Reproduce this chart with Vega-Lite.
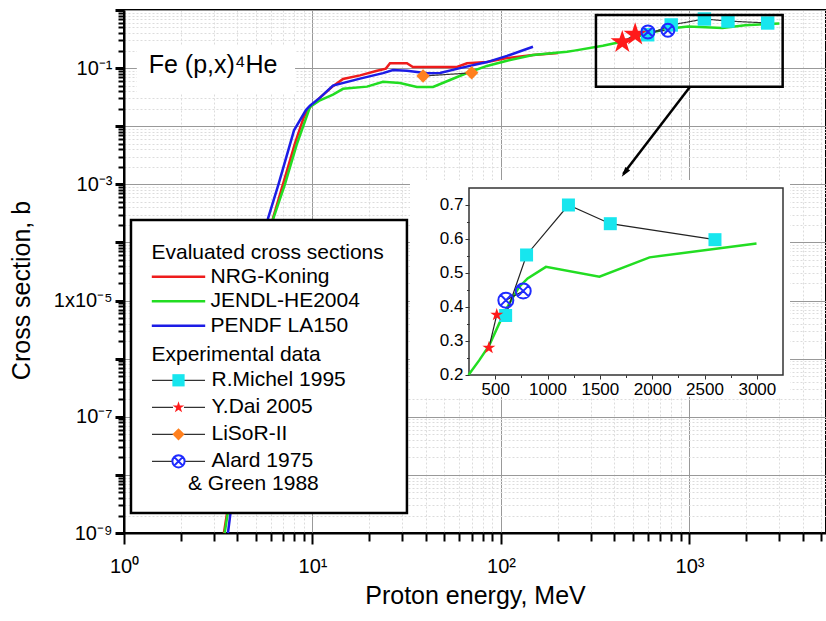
{
  "$schema": "https://vega.github.io/schema/vega-lite/v6.json",
  "width": 702,
  "height": 523,
  "autosize": {"type": "none"},
  "padding": {"left": 124, "top": 10, "right": 0, "bottom": 88},
  "background": "white",
  "config": {
    "view": {"stroke": "#000", "strokeWidth": 2},
    "font": "Liberation Sans, Arial, sans-serif",
    "text": {"font": "Liberation Sans, Arial, sans-serif", "color": "#000"},
    "axis": {"labelFont": "Liberation Sans, Arial, sans-serif", "titleFont": "Liberation Sans, Arial, sans-serif", "labelColor": "#000", "titleColor": "#000", "titleFontWeight": "normal"},
    "legend": {"labelFont": "Liberation Sans, Arial, sans-serif", "titleFont": "Liberation Sans, Arial, sans-serif", "labelColor": "#000", "titleColor": "#000", "titleFontWeight": "normal"}
  },
  "datasets": {
    "evaluated": [
      {"model": "NRG-Koning", "E": 3.39, "xs": 1e-9},
      {"model": "NRG-Koning", "E": 6.17, "xs": 0.00026},
      {"model": "NRG-Koning", "E": 6.97, "xs": 0.001},
      {"model": "NRG-Koning", "E": 8.08, "xs": 0.0051},
      {"model": "NRG-Koning", "E": 9.0, "xs": 0.0144},
      {"model": "NRG-Koning", "E": 9.7, "xs": 0.0214},
      {"model": "NRG-Koning", "E": 10.96, "xs": 0.031},
      {"model": "NRG-Koning", "E": 12.84, "xs": 0.049},
      {"model": "NRG-Koning", "E": 14.52, "xs": 0.065},
      {"model": "NRG-Koning", "E": 17.87, "xs": 0.075},
      {"model": "NRG-Koning", "E": 21.99, "xs": 0.09},
      {"model": "NRG-Koning", "E": 24.5, "xs": 0.098},
      {"model": "NRG-Koning", "E": 25.77, "xs": 0.121},
      {"model": "NRG-Koning", "E": 31.7, "xs": 0.121},
      {"model": "NRG-Koning", "E": 34.1, "xs": 0.1045},
      {"model": "NRG-Koning", "E": 58.4, "xs": 0.1045},
      {"model": "NRG-Koning", "E": 66.0, "xs": 0.121},
      {"model": "NRG-Koning", "E": 84.3, "xs": 0.127},
      {"model": "NRG-Koning", "E": 107.6, "xs": 0.149},
      {"model": "NRG-Koning", "E": 147.8, "xs": 0.168},
      {"model": "NRG-Koning", "E": 200.6, "xs": 0.182},
      {"model": "JENDL-HE2004", "E": 3.42, "xs": 1e-9},
      {"model": "JENDL-HE2004", "E": 6.2, "xs": 0.00026},
      {"model": "JENDL-HE2004", "E": 7.14, "xs": 0.001},
      {"model": "JENDL-HE2004", "E": 8.29, "xs": 0.0051},
      {"model": "JENDL-HE2004", "E": 9.7, "xs": 0.0214},
      {"model": "JENDL-HE2004", "E": 10.96, "xs": 0.028},
      {"model": "JENDL-HE2004", "E": 12.84, "xs": 0.035},
      {"model": "JENDL-HE2004", "E": 14.52, "xs": 0.044},
      {"model": "JENDL-HE2004", "E": 19.46, "xs": 0.048},
      {"model": "JENDL-HE2004", "E": 23.66, "xs": 0.0583},
      {"model": "JENDL-HE2004", "E": 29.12, "xs": 0.0554},
      {"model": "JENDL-HE2004", "E": 35.8, "xs": 0.0473},
      {"model": "JENDL-HE2004", "E": 43.6, "xs": 0.0473},
      {"model": "JENDL-HE2004", "E": 53.6, "xs": 0.0624},
      {"model": "JENDL-HE2004", "E": 66.0, "xs": 0.0824},
      {"model": "JENDL-HE2004", "E": 84.3, "xs": 0.109},
      {"model": "JENDL-HE2004", "E": 107.6, "xs": 0.134},
      {"model": "JENDL-HE2004", "E": 147.8, "xs": 0.168},
      {"model": "JENDL-HE2004", "E": 224, "xs": 0.191},
      {"model": "JENDL-HE2004", "E": 245, "xs": 0.2},
      {"model": "JENDL-HE2004", "E": 347, "xs": 0.243},
      {"model": "JENDL-HE2004", "E": 443, "xs": 0.287},
      {"model": "JENDL-HE2004", "E": 538, "xs": 0.351},
      {"model": "JENDL-HE2004", "E": 634, "xs": 0.41},
      {"model": "JENDL-HE2004", "E": 730, "xs": 0.459},
      {"model": "JENDL-HE2004", "E": 810, "xs": 0.484},
      {"model": "JENDL-HE2004", "E": 985, "xs": 0.518},
      {"model": "JENDL-HE2004", "E": 1496, "xs": 0.489},
      {"model": "JENDL-HE2004", "E": 1975, "xs": 0.546},
      {"model": "JENDL-HE2004", "E": 2997, "xs": 0.587},
      {"model": "PENDF LA150", "E": 3.56, "xs": 1e-9},
      {"model": "PENDF LA150", "E": 5.81, "xs": 0.00026},
      {"model": "PENDF LA150", "E": 6.6, "xs": 0.001},
      {"model": "PENDF LA150", "E": 7.98, "xs": 0.0085},
      {"model": "PENDF LA150", "E": 9.23, "xs": 0.019},
      {"model": "PENDF LA150", "E": 9.7, "xs": 0.0225},
      {"model": "PENDF LA150", "E": 10.96, "xs": 0.031},
      {"model": "PENDF LA150", "E": 12.84, "xs": 0.05},
      {"model": "PENDF LA150", "E": 17.87, "xs": 0.066},
      {"model": "PENDF LA150", "E": 23.66, "xs": 0.082},
      {"model": "PENDF LA150", "E": 26.74, "xs": 0.0927},
      {"model": "PENDF LA150", "E": 31.7, "xs": 0.0902},
      {"model": "PENDF LA150", "E": 40.5, "xs": 0.0814},
      {"model": "PENDF LA150", "E": 47.5, "xs": 0.0824},
      {"model": "PENDF LA150", "E": 60.6, "xs": 0.1},
      {"model": "PENDF LA150", "E": 84.3, "xs": 0.127},
      {"model": "PENDF LA150", "E": 107.6, "xs": 0.162},
      {"model": "PENDF LA150", "E": 147.8, "xs": 0.233}
    ],
    "experimental": [
      {"series": "R.Michel 1995", "E": 600, "xs": 0.375},
      {"series": "R.Michel 1995", "E": 800, "xs": 0.553},
      {"series": "R.Michel 1995", "E": 1200, "xs": 0.7},
      {"series": "R.Michel 1995", "E": 1600, "xs": 0.645},
      {"series": "R.Michel 1995", "E": 2600, "xs": 0.598},
      {"series": "Y.Dai 2005", "E": 440, "xs": 0.28},
      {"series": "Y.Dai 2005", "E": 515, "xs": 0.377},
      {"series": "LiSoR-II", "E": 38.6, "xs": 0.073},
      {"series": "LiSoR-II", "E": 69.9, "xs": 0.083},
      {"series": "Alard 1975", "E": 602, "xs": 0.42},
      {"series": "Alard 1975", "E": 768, "xs": 0.447}
    ]
  },
  "layer": [
    {
      "layer": [
        {
          "data": {"name": "evaluated"},
          "mark": {"type": "line", "strokeWidth": 2.5},
          "encoding": {
            "x": {
              "field": "E", "type": "quantitative",
              "scale": {"type": "log", "domain": [1, 5300], "nice": false},
              "axis": {
                "orient": "bottom",
                "values": [1,2,3,4,5,6,7,8,9,10,20,30,40,50,60,70,80,90,100,200,300,400,500,600,700,800,900,1000,2000,3000,4000,5000],
                "labelExpr": "datum.value == 1 ? '10⁰' : datum.value == 10 ? '10¹' : datum.value == 100 ? '10²' : datum.value == 1000 ? '10³' : ''",
                "labelOverlap": false, "labelFlush": false, "labelBound": false,
                "labelFontSize": 20, "labelPadding": 12,
                "title": "Proton energy, MeV", "titleFontSize": 25, "titleBaseline": "alphabetic", "titleY": 70,
                "domainColor": "#000", "domainWidth": 2,
                "tickColor": "#000", "tickWidth": 2,
                "tickSize": {"condition": {"test": "abs(log(datum.value)/LN10 - round(log(datum.value)/LN10)) < 0.0001", "value": 11}, "value": 8},
                "grid": true, "gridWidth": 1,
                "gridColor": {"condition": {"test": "abs(log(datum.value)/LN10 - round(log(datum.value)/LN10)) < 0.0001", "value": "#999999"}, "value": "#dcdcdc"},
                "gridDash": {"condition": {"test": "abs(log(datum.value)/LN10 - round(log(datum.value)/LN10)) < 0.0001", "value": []}, "value": [2, 2]}
              }
            },
            "y": {
              "field": "xs", "type": "quantitative",
              "scale": {"type": "log", "domain": [1e-9, 1], "nice": false},
              "axis": {
                "orient": "left",
                "values": [1e-9,2e-9,3e-9,4e-9,5e-9,6e-9,7e-9,8e-9,9e-9,1e-8,2e-8,3e-8,4e-8,5e-8,6e-8,7e-8,8e-8,9e-8,1e-7,2e-7,3e-7,4e-7,5e-7,6e-7,7e-7,8e-7,9e-7,1e-6,2e-6,3e-6,4e-6,5e-6,6e-6,7e-6,8e-6,9e-6,1e-5,2e-5,3e-5,4e-5,5e-5,6e-5,7e-5,8e-5,9e-5,0.0001,0.0002,0.0003,0.0004,0.0005,0.0006,0.0007,0.0008,0.0009,0.001,0.002,0.003,0.004,0.005,0.006,0.007,0.008,0.009,0.01,0.02,0.03,0.04,0.05,0.06,0.07,0.08,0.09,0.1,0.2,0.3,0.4,0.5,0.6,0.7,0.8,0.9,1],
                "labelExpr": "datum.value == 0.1 ? '10⁻¹' : datum.value == 0.001 ? '10⁻³' : datum.value == 0.00001 ? '1x10⁻⁵' : datum.value == 1e-7 ? '10⁻⁷' : datum.value == 1e-9 ? '10⁻⁹' : ''",
                "labelOverlap": false, "labelFlush": false, "labelBound": false,
                "labelFontSize": 20, "labelPadding": 3,
                "title": "Cross section, b", "titleFontSize": 25, "titleX": -102.5, "titleY": 280, "titleBaseline": "middle", "titleAlign": "center", "titleAngle": 270,
                "domainColor": "#000", "domainWidth": 2,
                "tickColor": "#000",
                "tickWidth": {"condition": {"test": "abs(log(datum.value)/LN10 - round(log(datum.value)/LN10)) < 0.0001", "value": 3}, "value": 2},
                "tickSize": {"condition": {"test": "abs(log(datum.value)/LN10 - round(log(datum.value)/LN10)) < 0.0001", "value": 9}, "value": 6},
                "grid": true, "gridWidth": 1,
                "gridColor": {"condition": {"test": "abs(log(datum.value)/LN10 - round(log(datum.value)/LN10)) < 0.0001", "value": "#999999"}, "value": "#dcdcdc"},
                "gridDash": {"condition": {"test": "abs(log(datum.value)/LN10 - round(log(datum.value)/LN10)) < 0.0001", "value": []}, "value": [2, 2]}
              }
            },
            "stroke": {
              "field": "model", "type": "nominal",
              "scale": {"domain": ["NRG-Koning", "JENDL-HE2004", "PENDF LA150"], "range": ["#ee1c1c", "#22dd22", "#1c1ce6"]},
              "legend": {
                "title": "Evaluated cross sections", "orient": "none", "legendX": 27.5, "legendY": 232.2, "padding": 0,
                "titleFontSize": 21, "titlePadding": 2, "titleLimit": 400, "titleAnchor": "start",
                "labelFontSize": 21, "labelLimit": 400,
                "symbolType": "M-2.67,0H2.67", "symbolSize": 400, "symbolStrokeWidth": 2.5,
                "symbolOffset": 15.5, "labelOffset": 20.5, "rowPadding": 2.5
              }
            }
          }
        },
        {
          "data": {"name": "experimental"},
          "mark": {"type": "line", "color": "#333333", "strokeWidth": 1.2},
          "encoding": {
            "x": {"field": "E", "type": "quantitative"},
            "y": {"field": "xs", "type": "quantitative"},
            "strokeDash": {
              "field": "series", "type": "nominal",
              "scale": {"range": [[1, 0], [1, 0], [1, 0], [1, 0]]},
              "legend": {
                "title": null, "orient": "none", "legendX": 27.5, "legendY": 359.8, "padding": 0,
                "labelFontSize": 21, "labelExpr": "''", "labelLimit": 400,
                "symbolType": "M-4.33,0H-0.9M0.9,0H4.33", "symbolSize": 150, "symbolStrokeWidth": 1.2, "symbolStrokeColor": "#333333",
                "symbolOffset": 16.5, "labelOffset": 22.5, "rowPadding": 5
              }
            }
          }
        },
        {
          "data": {"name": "experimental"},
          "transform": [{"filter": "datum.series == 'R.Michel 1995' || datum.series == 'LiSoR-II'"}],
          "mark": {"type": "point", "filled": true, "opacity": 1, "size": 180},
          "encoding": {
            "x": {"field": "E", "type": "quantitative"},
            "y": {"field": "xs", "type": "quantitative"},
            "shape": {
              "field": "series", "type": "nominal",
              "scale": {"domain": ["R.Michel 1995", "Y.Dai 2005", "LiSoR-II", "Alard 1975"], "range": ["square", "M0,-1L0.2245,-0.309L0.951,-0.309L0.3633,0.118L0.5878,0.809L0,0.382L-0.5878,0.809L-0.3633,0.118L-0.951,-0.309L-0.2245,-0.309Z", "diamond", "M1,0A1,1,0,1,1,-1,0A1,1,0,1,1,1,0Z M-0.72,-0.72L0.72,0.72 M-0.72,0.72L0.72,-0.72"]},
              "legend": {
                "title": "Experimental data", "orient": "none", "legendX": 27.5, "legendY": 333.8, "padding": 0,
                "titleFontSize": 21, "titlePadding": 5, "titleLimit": 400, "titleAnchor": "start",
                "labelFontSize": 21, "labelLimit": 400,
                "symbolSize": 150, "symbolStrokeWidth": 2, "symbolOpacity": 1,
                "symbolOffset": 16.5, "labelOffset": 22.5, "rowPadding": 5,
                "encode": {"symbols": {"update": {"stroke": {"signal": "datum.value === 'Alard 1975' ? '#1f2bff' : 'transparent'"}, "strokeWidth": {"value": 2}, "opacity": {"value": 1}}}}
              }
            },
            "fill": {
              "field": "series", "type": "nominal",
              "scale": {"domain": ["R.Michel 1995", "Y.Dai 2005", "LiSoR-II", "Alard 1975"], "range": ["#17e6ee", "#ff1a1a", "#ff801e", "transparent"]},
              "legend": {
                "title": "Experimental data", "orient": "none", "legendX": 27.5, "legendY": 333.8, "padding": 0,
                "titleFontSize": 21, "titlePadding": 5, "titleLimit": 400, "titleAnchor": "start",
                "labelFontSize": 21, "labelLimit": 400,
                "symbolSize": 150, "symbolStrokeWidth": 2, "symbolOpacity": 1,
                "symbolOffset": 16.5, "labelOffset": 22.5, "rowPadding": 5,
                "encode": {"symbols": {"update": {"stroke": {"signal": "datum.value === 'Alard 1975' ? '#1f2bff' : 'transparent'"}, "strokeWidth": {"value": 2}, "opacity": {"value": 1}}}}
              }
            }
          }
        },
        {
          "data": {"name": "experimental"},
          "transform": [{"filter": "datum.series == 'Y.Dai 2005'"}],
          "mark": {"type": "point", "filled": true, "opacity": 1, "size": 600},
          "encoding": {
            "x": {"field": "E", "type": "quantitative"},
            "y": {"field": "xs", "type": "quantitative"},
            "shape": {"field": "series", "type": "nominal"},
            "fill": {"field": "series", "type": "nominal"}
          }
        },
        {
          "data": {"name": "experimental"},
          "transform": [{"filter": "datum.series == 'Alard 1975'"}],
          "mark": {"type": "point", "filled": false, "opacity": 1, "size": 169, "stroke": "#1f2bff", "strokeWidth": 2, "shape": "M1,0A1,1,0,1,1,-1,0A1,1,0,1,1,1,0Z M-0.72,-0.72L0.72,0.72 M-0.72,0.72L0.72,-0.72"},
          "encoding": {
            "x": {"field": "E", "type": "quantitative"},
            "y": {"field": "xs", "type": "quantitative"}
          }
        },
        {
          "data": {"values": [{}]},
          "mark": {"type": "rect", "fill": "white"},
          "encoding": {"x": {"datum": 1.17}, "x2": {"datum": 8.08}, "y": {"datum": 0.25}, "y2": {"datum": 0.0373}}
        },
        {
          "data": {"values": [{}]},
          "mark": {"type": "text", "text": "Fe (p,x)⁴He", "fontSize": 25, "align": "left", "baseline": "alphabetic", "color": "#000"},
          "encoding": {"x": {"datum": 1.352}, "y": {"datum": 0.0814}}
        },
        {
          "data": {"values": [{}]},
          "mark": {"type": "rect", "fill": "white", "stroke": "#000", "strokeWidth": 2.5},
          "encoding": {"x": {"datum": 1.089}, "x2": {"datum": 31.7}, "y": {"datum": 2.2e-9}, "y2": {"datum": 0.000243}}
        },
        {
          "data": {"values": [{}]},
          "mark": {"type": "text", "text": "& Green 1988", "fontSize": 21, "align": "left", "baseline": "alphabetic", "color": "#000"},
          "encoding": {"x": {"datum": 2.185}, "y": {"datum": 5.47e-9}}
        },
        {
          "data": {"values": [{}]},
          "mark": {"type": "rect", "fill": "transparent", "stroke": "#000", "strokeWidth": 2.5},
          "encoding": {"x": {"datum": 319}, "x2": {"datum": 3121}, "y": {"datum": 0.0479}, "y2": {"datum": 0.82}}
        },
        {
          "data": {"values": [{}]},
          "mark": {"type": "rule", "color": "#000", "strokeWidth": 2.5},
          "encoding": {"x": {"datum": 1007}, "y": {"datum": 0.0479}, "x2": {"datum": 445}, "y2": {"datum": 0.0015}}
        },
        {
          "data": {"values": [{}]},
          "mark": {"type": "point", "shape": "M0,0L-0.45,-1.5L0.45,-1.5Z", "filled": true, "fill": "#000", "opacity": 1, "size": 180, "angle": 37},
          "encoding": {"x": {"datum": 437}, "y": {"datum": 0.00135}}
        }
      ]
    },
    {
      "layer": [
        {
          "data": {"values": [{}]},
          "mark": {"type": "rect", "fill": "white"},
          "encoding": {
            "x": {
              "datum": -314, "type": "quantitative",
              "scale": {"domain": [-3046.2, 3660.8], "nice": false, "zero": false},
              "axis": {
                "orient": "bottom", "offset": -158, "zindex": 1, "domain": false, "grid": false, "title": null,
                "values": [500, 750, 1000, 1250, 1500, 1750, 2000, 2250, 2500, 2750, 3000],
                "labelExpr": "datum.value % 500 == 0 ? format(datum.value, 'd') : ''",
                "labelFontSize": 17, "labelPadding": 2.5, "labelOverlap": false, "labelFlush": false, "labelBound": false,
                "tickColor": "#333333", "tickWidth": 1,
                "tickSize": {"condition": {"test": "datum.value % 500 == 0", "value": 4}, "value": 2.5}
              }
            },
            "x2": {"datum": 3317},
            "y": {
              "datum": 0.135, "type": "quantitative",
              "scale": {"domain": [-0.2647, 1.2735], "nice": false, "zero": false},
              "axis": {
                "orient": "left", "offset": -345, "zindex": 1, "domain": false, "grid": false, "title": null,
                "values": [0.2, 0.25, 0.3, 0.35, 0.4, 0.45, 0.5, 0.55, 0.6, 0.65, 0.7],
                "labelExpr": "abs(datum.value*10 - round(datum.value*10)) < 0.001 ? format(datum.value, '.1f') : ''",
                "labelFontSize": 17, "labelPadding": 2, "labelOverlap": false, "labelFlush": false, "labelBound": false,
                "tickColor": "#333333", "tickWidth": 1,
                "tickSize": {"condition": {"test": "abs(datum.value*10 - round(datum.value*10)) < 0.001", "value": 4}, "value": 2.5}
              }
            },
            "y2": {"datum": 0.7735}
          }
        },
        {
          "data": {"values": [{}]},
          "mark": {"type": "rect", "fill": "transparent", "stroke": "#333333", "strokeWidth": 1.5},
          "encoding": {"x": {"datum": 250}, "x2": {"datum": 3250}, "y": {"datum": 0.2}, "y2": {"datum": 0.75}}
        },
        {
          "data": {"name": "evaluated"},
          "transform": [{"filter": "datum.model == 'JENDL-HE2004' && datum.E >= 245"}],
          "mark": {"type": "line", "color": "#22dd22", "strokeWidth": 2.5},
          "encoding": {
            "x": {"field": "E", "type": "quantitative"},
            "y": {"field": "xs", "type": "quantitative"}
          }
        },
        {
          "data": {"name": "experimental"},
          "transform": [{"filter": "datum.E >= 245"}],
          "mark": {"type": "line", "color": "#222222", "strokeWidth": 1.2},
          "encoding": {
            "x": {"field": "E", "type": "quantitative"},
            "y": {"field": "xs", "type": "quantitative"},
            "detail": {"field": "series", "type": "nominal"}
          }
        },
        {
          "data": {"name": "experimental"},
          "transform": [{"filter": "datum.series == 'R.Michel 1995'"}],
          "mark": {"type": "point", "shape": "square", "filled": true, "fill": "#17e6ee", "opacity": 1, "size": 169},
          "encoding": {
            "x": {"field": "E", "type": "quantitative"},
            "y": {"field": "xs", "type": "quantitative"}
          }
        },
        {
          "data": {"name": "experimental"},
          "transform": [{"filter": "datum.series == 'Y.Dai 2005'"}],
          "mark": {"type": "point", "shape": "M0,-1L0.2245,-0.309L0.951,-0.309L0.3633,0.118L0.5878,0.809L0,0.382L-0.5878,0.809L-0.3633,0.118L-0.951,-0.309L-0.2245,-0.309Z", "filled": true, "fill": "#ff1a1a", "opacity": 1, "size": 186},
          "encoding": {
            "x": {"field": "E", "type": "quantitative"},
            "y": {"field": "xs", "type": "quantitative"}
          }
        },
        {
          "data": {"name": "experimental"},
          "transform": [{"filter": "datum.series == 'Alard 1975'"}],
          "mark": {"type": "point", "shape": "M1,0A1,1,0,1,1,-1,0A1,1,0,1,1,1,0Z M-0.72,-0.72L0.72,0.72 M-0.72,0.72L0.72,-0.72", "filled": false, "stroke": "#1f2bff", "strokeWidth": 2, "opacity": 1, "size": 225},
          "encoding": {
            "x": {"field": "E", "type": "quantitative"},
            "y": {"field": "xs", "type": "quantitative"}
          }
        }
      ]
    }
  ],
  "resolve": {"scale": {"x": "independent", "y": "independent"}}
}
